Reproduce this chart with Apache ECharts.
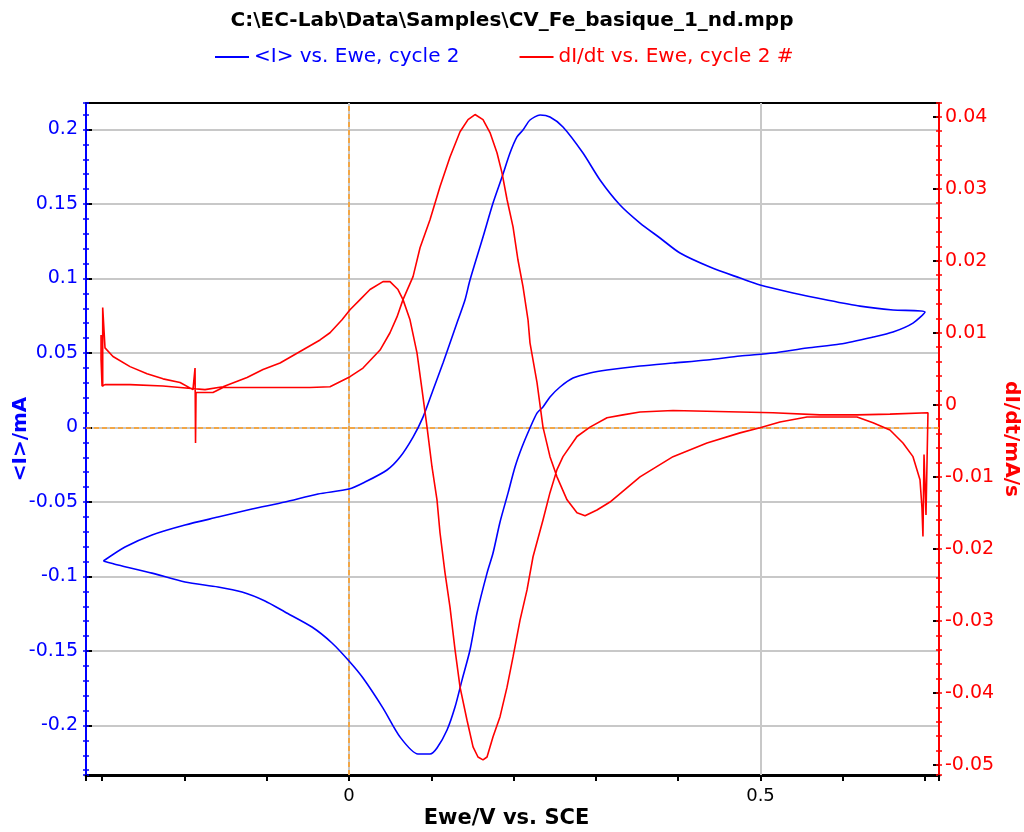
<!DOCTYPE html>
<html><head><meta charset="utf-8">
<script src="https://cdn.jsdelivr.net/npm/echarts@6/dist/echarts.min.js"></script>
<style>html,body{margin:0;padding:0;background:#fff}#chart{width:1024px;height:832px}</style>
</head><body><div id="chart"></div>
<script>
// ---------- text ----------
const titleText = 'C:\\EC-Lab\\Data\\Samples\\CV_Fe_basique_1_nd.mpp';
const seriesNames = ['<I> vs. Ewe, cycle 2', 'dI/dt vs. Ewe, cycle 2 #'];
const xAxisName = 'Ewe/V vs. SCE';
const leftAxisName = '<I>/mA';
const rightAxisName = 'dI/dt/mA/s';

// ---------- axis ranges & tick labels ----------
const xRange = [-0.3196, 0.7169];
const leftRange = [-0.2332, 0.2178];
const rightRange = [-0.0514, 0.0419];
const xTickLabelValues = [0, 0.5];
const leftTickValues = [-0.2, -0.15, -0.1, -0.05, 0, 0.05, 0.1, 0.15, 0.2];
const rightTickValues = [-0.05, -0.04, -0.03, -0.02, -0.01, 0, 0.01, 0.02, 0.03, 0.04];
const gridLinesX = [0, 0.5];
const zeroLinesX = [0];
const zeroLinesY = [0];

// ---------- <I> vs Ewe (mA), forward scan then reverse scan ----------
const blueForwardE = [-0.2985, -0.2722, -0.2394, -0.1993, -0.1592, -0.1179, -0.0778, -0.0377, 0.0000, 0.0194,
  0.0462, 0.0620, 0.0778, 0.0899, 0.1021, 0.1142, 0.1227, 0.1324, 0.1409, 0.1470,
  0.1628, 0.1750, 0.1859, 0.1956, 0.2041, 0.2114, 0.2199, 0.2321, 0.2442, 0.2600,
  0.2843, 0.3050, 0.3293, 0.3536, 0.3779, 0.4022, 0.4386, 0.4751, 0.4994, 0.5395,
  0.5808, 0.6209, 0.6610, 0.6999];
const blueForwardI = [-0.0896, -0.0802, -0.0721, -0.0654, -0.0601, -0.0547, -0.0500, -0.0446, -0.0413, -0.0366,
  -0.0285, -0.0198, -0.0064, 0.0070, 0.0252, 0.0433, 0.0567, 0.0721, 0.0856, 0.0990,
  0.1279, 0.1507, 0.1681, 0.1842, 0.1950, 0.1997, 0.2064, 0.2097, 0.2084, 0.2017,
  0.1842, 0.1661, 0.1493, 0.1372, 0.1272, 0.1171, 0.1077, 0.1003, 0.0956, 0.0903,
  0.0856, 0.0815, 0.0789, 0.0775];
const blueReverseE = [0.6853, 0.6610, 0.6367, 0.5966, 0.5565, 0.5152, 0.4751, 0.4350, 0.3937, 0.3536,
  0.3135, 0.2928, 0.2722, 0.2564, 0.2442, 0.2357, 0.2284, 0.2199, 0.2102, 0.2017,
  0.1932, 0.1835, 0.1750, 0.1677, 0.1555, 0.1470, 0.1373, 0.1288, 0.1191, 0.1069,
  0.0984, 0.0838, 0.0620, 0.0413, 0.0170, 0.0000, -0.0207, -0.0450, -0.0778, -0.1021,
  -0.1300, -0.1592, -0.1993, -0.2394, -0.2807, -0.2985];
const blueReverseI = [0.0701, 0.0641, 0.0607, 0.0560, 0.0534, 0.0500, 0.0480, 0.0453, 0.0433, 0.0413,
  0.0386, 0.0366, 0.0332, 0.0272, 0.0205, 0.0138, 0.0097, -0.0003, -0.0131, -0.0265,
  -0.0440, -0.0634, -0.0842, -0.0977, -0.1245, -0.1493, -0.1695, -0.1876, -0.2030, -0.2151,
  -0.2191, -0.2191, -0.2077, -0.1883, -0.1681, -0.1567, -0.1446, -0.1339, -0.1238, -0.1164,
  -0.1104, -0.1070, -0.1037, -0.0977, -0.0923, -0.0896];

// ---------- dI/dt vs Ewe (mA/s), forward scan then reverse scan ----------
const redForwardE = [-0.2993, -0.2993, -0.2965, -0.2868, -0.2661, -0.2454, -0.2260, -0.2053, -0.1896, -0.1871,
  -0.1865, -0.1859, -0.1653, -0.1531, -0.1203, -0.0838, -0.0474, -0.0231, 0.0012, 0.0170,
  0.0377, 0.0498, 0.0583, 0.0656, 0.0778, 0.0863, 0.0984, 0.1106, 0.1227, 0.1349,
  0.1446, 0.1531, 0.1628, 0.1713, 0.1798, 0.1859, 0.1920, 0.1993, 0.2053, 0.2114,
  0.2175, 0.2199, 0.2284, 0.2357, 0.2442, 0.2527, 0.2649, 0.2770, 0.2868, 0.3013,
  0.3171, 0.3536, 0.3937, 0.4350, 0.4751, 0.4994, 0.5237, 0.5565, 0.6173, 0.6367,
  0.6573, 0.6731, 0.6853, 0.6938, 0.6962, 0.6974, 0.6987, 0.7011, 0.7035];
const redForwardV = [0.0025, 0.0135, 0.0079, 0.0067, 0.0053, 0.0043, 0.0036, 0.0031, 0.0021, 0.0051,
  -0.0053, 0.0017, 0.0017, 0.0024, 0.0024, 0.0024, 0.0024, 0.0025, 0.0039, 0.0051,
  0.0076, 0.0100, 0.0122, 0.0146, 0.0178, 0.0218, 0.0257, 0.0303, 0.0344, 0.0379,
  0.0396, 0.0403, 0.0396, 0.0378, 0.0350, 0.0322, 0.0285, 0.0247, 0.0201, 0.0164,
  0.0118, 0.0086, 0.0031, -0.0031, -0.0072, -0.0100, -0.0132, -0.0150, -0.0154, -0.0146,
  -0.0135, -0.0100, -0.0072, -0.0053, -0.0039, -0.0032, -0.0024, -0.0017, -0.0017, -0.0025,
  -0.0035, -0.0053, -0.0072, -0.0104, -0.0143, -0.0183, -0.0069, -0.0153, -0.0011];
const redReverseE = [0.6573, 0.6173, 0.5723, 0.5152, 0.4751, 0.3937, 0.3536, 0.3329, 0.3135, 0.2928,
  0.2770, 0.2600, 0.2527, 0.2442, 0.2357, 0.2236, 0.2163, 0.2078, 0.1993, 0.1920,
  0.1835, 0.1750, 0.1677, 0.1628, 0.1567, 0.1507, 0.1434, 0.1349, 0.1288, 0.1227,
  0.1166, 0.1106, 0.1069, 0.1008, 0.0948, 0.0887, 0.0826, 0.0741, 0.0656, 0.0595,
  0.0498, 0.0413, 0.0255, 0.0134, 0.0012, -0.0085, -0.0231, -0.0352, -0.0595, -0.0838,
  -0.1045, -0.1239, -0.1531, -0.1750, -0.2053, -0.2260, -0.2661, -0.2965, -0.3001, -0.3013,
  -0.3013];
const redReverseV = [-0.0013, -0.0014, -0.0014, -0.0011, -0.0010, -0.0008, -0.0010, -0.0014, -0.0018, -0.0031,
  -0.0044, -0.0072, -0.0090, -0.0122, -0.0160, -0.0211, -0.0257, -0.0299, -0.0350, -0.0392,
  -0.0433, -0.0461, -0.0489, -0.0493, -0.0489, -0.0475, -0.0438, -0.0392, -0.0340, -0.0281,
  -0.0233, -0.0178, -0.0132, -0.0086, -0.0031, 0.0021, 0.0072, 0.0118, 0.0146, 0.0160,
  0.0171, 0.0171, 0.0160, 0.0146, 0.0132, 0.0118, 0.0100, 0.0090, 0.0074, 0.0058,
  0.0049, 0.0038, 0.0025, 0.0021, 0.0024, 0.0026, 0.0028, 0.0028, 0.0026, 0.0063,
  0.0097];

// ---------- build ----------
const FONT = "'DejaVu Sans', sans-serif";
const BLUE = '#0000ff', RED = '#ff0000', GRID = '#c8c8c8', ORANGE = '#ff9a1a';
function pairs(xs, ys) { return xs.map((x, i) => [x, ys[i]]); }
function onList(v, list) { return list.some(t => Math.abs(t - v) < 1e-7); }
function fmt(v) { return String(Math.round(v * 1000) / 1000); }

const blueData = pairs(blueForwardE, blueForwardI).concat(pairs(blueReverseE, blueReverseI));
const redData = pairs(redForwardE, redForwardV).concat(pairs(redReverseE, redReverseV));

const refLines = []
  .concat(gridLinesX.map(x => ({ xAxis: x, lineStyle: { color: GRID, width: 2, type: 'solid' } })))
  .concat(zeroLinesX.map(x => ({ xAxis: x, lineStyle: { color: ORANGE, width: 1.5, type: [5, 3] } })))
  .concat(zeroLinesY.map(y => ({ yAxis: y, lineStyle: { color: ORANGE, width: 1.5, type: [5, 3] } })));

const chart = echarts.init(document.getElementById('chart'), null, { renderer: 'canvas', width: 1024, height: 832 });
const option = {
  animation: false,
  backgroundColor: '#ffffff',
  title: {
    text: titleText, left: 'center', top: 6,
    textStyle: { fontFamily: FONT, fontSize: 20, fontWeight: 'bold', color: '#000' }
  },
  legend: {
    left: 215, top: 47, padding: 0, icon: 'rect', itemWidth: 34, itemHeight: 2, itemGap: 60, selectedMode: false,
    textStyle: { fontFamily: FONT, fontSize: 20 },
    data: [
      { name: seriesNames[0], icon: 'rect', itemStyle: { color: BLUE }, textStyle: { color: BLUE } },
      { name: seriesNames[1], icon: 'rect', itemStyle: { color: RED }, textStyle: { color: RED } }
    ]
  },
  grid: { left: 86, right: 85, top: 103, bottom: 57, containLabel: false, outerBoundsMode: 'none' },
  xAxis: [
    {
      type: 'value', position: 'bottom', min: xRange[0], max: xRange[1],
      minInterval: 0.1, maxInterval: 0.1, splitNumber: 10,
      axisLine: { show: true, onZero: false, lineStyle: { color: '#000', width: 3 } },
      axisTick: { show: true, inside: false, length: 6, lineStyle: { color: '#000', width: 2 } },
      axisLabel: {
        show: true, margin: 12, color: '#000', fontFamily: FONT, fontSize: 18,
        formatter: v => onList(v, xTickLabelValues) ? fmt(v) : ''
      },
      splitLine: { show: false },
      name: xAxisName, nameLocation: 'middle', nameGap: 33, nameMoveOverlap: false,
      nameTextStyle: { fontFamily: FONT, fontWeight: 'bold', fontSize: 21, color: '#000', padding: [0, 12, 0, 0] }
    },
    {
      type: 'value', position: 'top', min: xRange[0], max: xRange[1],
      axisLine: { show: true, onZero: false, lineStyle: { color: '#000', width: 2 } },
      axisTick: { show: false }, axisLabel: { show: false }, splitLine: { show: false }
    }
  ],
  yAxis: [
    {
      type: 'value', position: 'left', min: leftRange[0], max: leftRange[1],
      minInterval: 0.05, maxInterval: 0.05, splitNumber: 9,
      axisLine: { show: true, onZero: false, lineStyle: { color: BLUE, width: 2 } },
      axisTick: { show: true, inside: true, length: 6, lineStyle: { color: '#000', width: 2 } },
      axisLabel: {
        color: BLUE, fontFamily: FONT, fontSize: 19, margin: 8,
        formatter: v => onList(v, leftTickValues) ? fmt(v) : ''
      },
      splitLine: { show: true, lineStyle: { color: GRID, width: 2 } },
      name: leftAxisName, nameLocation: 'middle', nameGap: 55, nameMoveOverlap: false,
      nameTextStyle: { color: BLUE, fontFamily: FONT, fontWeight: 'bold', fontSize: 20 }
    },
    {
      type: 'value', position: 'right', min: rightRange[0], max: rightRange[1],
      minInterval: 0.01, maxInterval: 0.01, splitNumber: 9,
      axisLine: { show: true, onZero: false, lineStyle: { color: RED, width: 2 } },
      axisTick: { show: true, inside: true, length: 6, lineStyle: { color: '#000', width: 2 } },
      axisLabel: {
        color: RED, fontFamily: FONT, fontSize: 19, margin: 6,
        formatter: v => onList(v, rightTickValues) ? fmt(v) : ''
      },
      splitLine: { show: false },
      name: rightAxisName, nameLocation: 'middle', nameGap: 62, nameRotate: -90, nameMoveOverlap: false,
      nameTextStyle: { color: RED, fontFamily: FONT, fontWeight: 'bold', fontSize: 20 }
    },
    {
      type: 'value', position: 'left', offset: -3, min: leftRange[0], max: leftRange[1],
      minInterval: 0.01, maxInterval: 0.01, splitNumber: 45,
      axisLine: { show: false, onZero: false },
      axisTick: { show: true, inside: false, length: 6, lineStyle: { color: BLUE, width: 1.5 } },
      axisLabel: { show: false }, splitLine: { show: false }
    },
    {
      type: 'value', position: 'right', offset: -3, min: rightRange[0], max: rightRange[1],
      minInterval: 0.002, maxInterval: 0.002, splitNumber: 46,
      axisLine: { show: false, onZero: false },
      axisTick: { show: true, inside: false, length: 6, lineStyle: { color: RED, width: 1.5 } },
      axisLabel: { show: false }, splitLine: { show: false }
    }
  ],
  series: [
    {
      type: 'line', name: 'refs', data: [], xAxisIndex: 0, yAxisIndex: 0, silent: true, z: 1,
      markLine: { silent: true, z: 1, symbol: ['none', 'none'], label: { show: false }, animation: false, data: refLines }
    },
    {
      type: 'line', name: seriesNames[0], data: blueData, xAxisIndex: 0, yAxisIndex: 0, z: 3,
      symbol: 'none', showSymbol: false, smooth: 0.25, silent: true,
      lineStyle: { color: BLUE, width: 1.6 }, itemStyle: { color: BLUE }
    },
    {
      type: 'line', name: seriesNames[1], data: redData, xAxisIndex: 0, yAxisIndex: 1, z: 4,
      symbol: 'none', showSymbol: false, smooth: false, silent: true,
      lineStyle: { color: RED, width: 1.6 }, itemStyle: { color: RED }
    }
  ]
};
chart.setOption(option);
</script>
</body></html>
